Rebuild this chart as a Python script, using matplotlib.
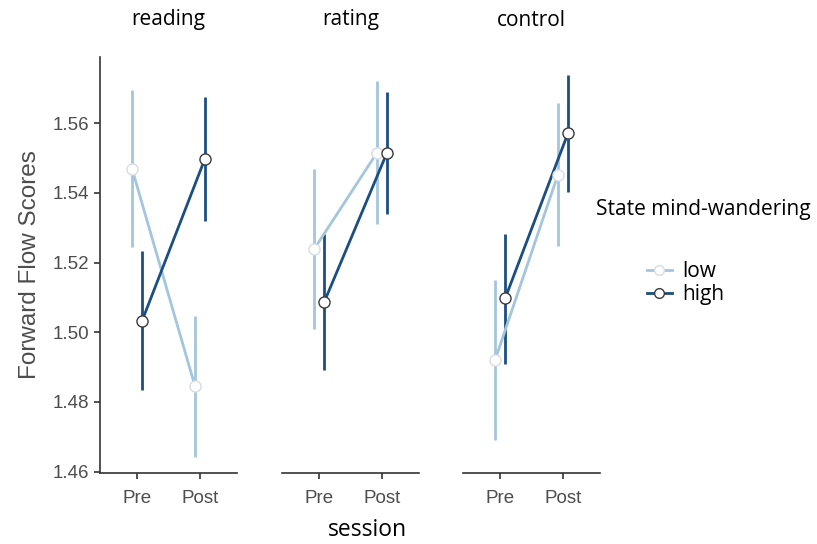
import numpy as np
import matplotlib.pyplot as plt
from matplotlib.lines import Line2D

# data
panels = ['reading', 'rating', 'control']
sessions = ['Pre', 'Post']
groups = ['low', 'high']

low_mean = [[1.5469, 1.4846], [1.5238, 1.5515], [1.4920, 1.5452]]
low_upper = [[1.5694, 1.5047], [1.5469, 1.5720], [1.5149, 1.5658]]
low_lower = [[1.5245, 1.4643], [1.5010, 1.5310], [1.4691, 1.5247]]

high_mean = [[1.5033, 1.5498], [1.5086, 1.5515], [1.5097, 1.5571]]
high_upper = [[1.5232, 1.5674], [1.5283, 1.5689], [1.5283, 1.5739]]
high_lower = [[1.4834, 1.5319], [1.4891, 1.5340], [1.4909, 1.5402]]

yticks = [1.46, 1.48, 1.50, 1.52, 1.54, 1.56]

col_low = '#a3c6dc'
col_high = '#1b4f81'
edge_low = '#d6dde3'
edge_high = '#3a3a3a'
grey = '#4d4d4d'

tick_font = 'Liberation Sans'
text_font = ['Open Sans', 'DejaVu Sans']

fig = plt.figure(figsize=(8.17, 5.44), dpi=100)

lefts = [100, 282, 463]
ax_w = 137 / 817
ax_b = 1 - 473 / 544
ax_h = (473 - 57) / 544
dodge = 0.08
x = np.arange(len(sessions))

series = [
    (low_mean, low_upper, low_lower, col_low, edge_low, -dodge),
    (high_mean, high_upper, high_lower, col_high, edge_high, dodge),
]

for i, name in enumerate(panels):
    ax = fig.add_axes([lefts[i] / 817, ax_b, ax_w, ax_h])
    for mean, up, lo, c, ec, off in series:
        m = np.array(mean[i])
        u = np.array(up[i])
        l = np.array(lo[i])
        ax.vlines(x + off, l, u, color=c, lw=2.0, zorder=2)
        ax.plot(x + off, m, color=c, lw=2.0, zorder=3)
        ax.plot(x + off, m, 'o', ms=8, mfc='white', mec=ec, mew=1.0, zorder=4)
    ax.set_xlim(-0.59, 1.59)
    ax.set_ylim(1.4596, 1.579)
    ax.set_xticks(x)
    ax.set_xticklabels(sessions, fontsize=13.5, color=grey, fontfamily=tick_font)
    ax.tick_params(axis='both', direction='out', length=4, width=1.2, color='#333333', pad=4)
    ax.tick_params(axis='x', pad=8)
    for s in ['top', 'right']:
        ax.spines[s].set_visible(False)
    ax.spines['bottom'].set_color('#333333')
    ax.spines['bottom'].set_linewidth(1.2)
    if i == 0:
        ax.set_yticks(yticks)
        ax.set_yticklabels(['%.2f' % v for v in yticks], fontsize=13.5, color=grey,
                           fontfamily=tick_font)
        ax.spines['left'].set_color('#333333')
        ax.spines['left'].set_linewidth(1.2)
        ax.set_ylabel('Forward Flow Scores', fontsize=17.5, color=grey,
                      fontfamily=tick_font, labelpad=8)
    else:
        ax.spines['left'].set_visible(False)
        ax.set_yticks([])
    ax.set_facecolor('none')
    fig.text((lefts[i] + 137 / 2) / 817, 1 - 20 / 544, name, ha='center', va='center',
             fontsize=15, fontfamily=text_font)

fig.text(367 / 817, 1 - 530 / 544, 'session', ha='center', va='center',
         fontsize=16.5, fontfamily=text_font)

fig.text(596 / 817, 1 - 209 / 544, 'State mind-wandering', ha='left', va='center',
         fontsize=15, fontfamily=text_font)
handles = [
    Line2D([], [], color=col_low, lw=2, marker='o', ms=7, mfc='white', mec=edge_low),
    Line2D([], [], color=col_high, lw=2, marker='o', ms=7, mfc='white', mec=edge_high),
]
fig.legend(handles, groups, loc='center left', bbox_to_anchor=(628 / 817, 1 - 283 / 544),
           frameon=False, handlelength=1.2, handletextpad=0.5, labelspacing=0.1,
           prop={'family': text_font, 'size': 15})

fig.savefig('out.png', dpi=100)
